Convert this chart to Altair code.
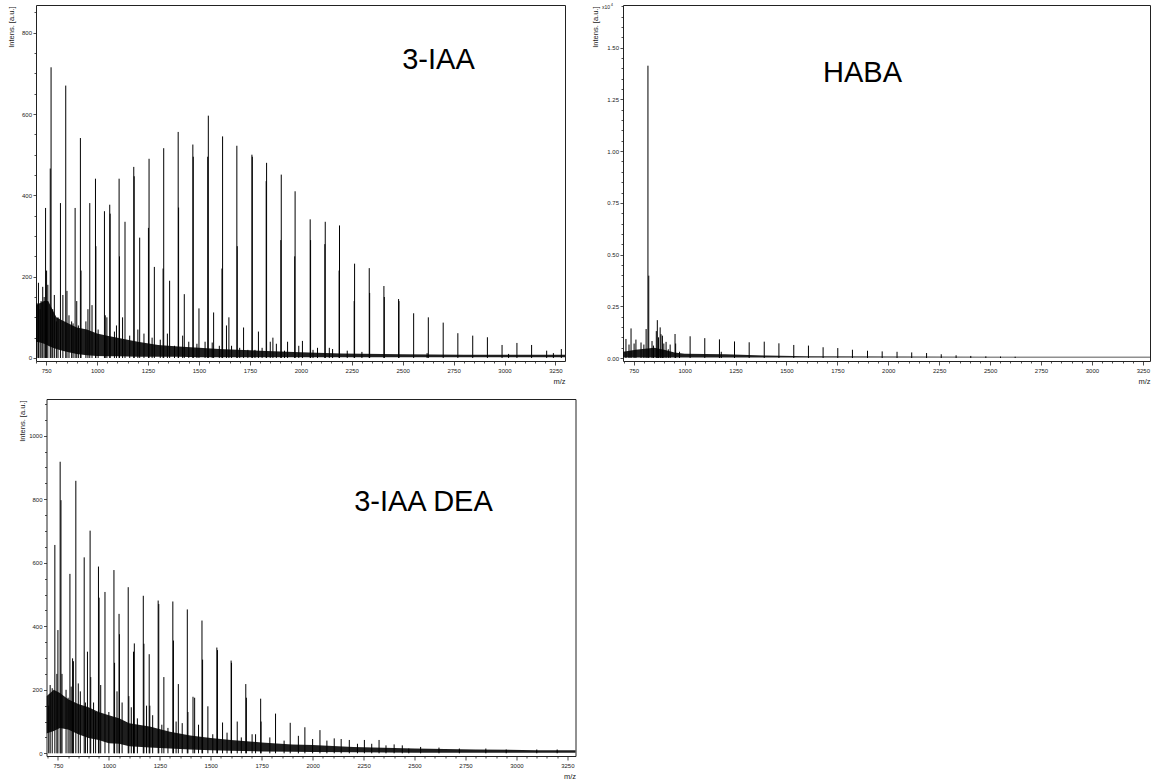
import altair as alt
import pandas as pd

FONT = "Liberation Sans"

# ---------------- 3-IAA spectrum (m/z, intensity a.u.) ----------------
iaa_mz = [747, 820, 892, 964, 1036, 1108, 1180, 1255, 1327, 1398, 1470, 1546, 1616, 1686, 1760,
          1832, 1904, 1972, 2046, 2120, 2190, 2264, 2336, 2408, 2480, 2554, 2626, 2699, 2771,
          2844, 2916, 2988, 3061, 3133, 3207, 3279,
          774, 846, 918, 992, 1062, 1137, 1209, 1281, 1356, 1428, 1500, 1572, 1647, 1719, 1792,
          1863, 1935, 2008, 2082, 2156, 2228,
          770, 921, 994, 1064, 1110, 1182, 1252, 1324, 1400, 1472, 1543, 1613, 1688, 1762, 1830,
          1902, 1970, 2048, 2118, 2188, 2262, 2338, 2410, 2482,
          705, 712, 720, 725, 733, 740, 752, 758, 782, 790, 800, 808, 832, 852, 862, 875, 882,
          900, 908, 945, 955, 975, 1005, 1040, 1048, 1085, 1095, 1125, 1160, 1200, 1230, 1270,
          1310, 1345, 1380, 1420, 1450, 1490, 1530, 1565, 1600, 1635, 1660, 1700, 1740, 1775,
          1810, 1850, 1880, 1920, 1990, 2060, 2140, 2300, 2620, 3020, 3240]
iaa_int = [369, 381, 369, 381, 361, 441, 470, 490, 516, 556, 525, 596, 545, 522, 500,
           480, 451, 410, 341, 335, 326, 232, 221, 177, 145, 110, 100, 87, 61,
           55, 51, 32, 37, 32, 18, 22,
           715, 670, 541, 441, 377, 335, 296, 224, 190, 157, 122, 112, 100, 75, 65,
           50, 40, 42, 25, 22, 18,
           466, 215, 275, 355, 250, 447, 320, 220, 370, 495, 495, 220, 275, 495, 435,
           290, 250, 290, 280, 215, 140, 160, 150, 140,
           135, 185, 120, 140, 175, 150, 215, 180, 120, 155, 90, 100, 155, 165, 105, 90, 85,
           140, 80, 90, 120, 130, 70, 105, 100, 65, 80, 100, 55, 70, 60, 50,
           45, 60, 30, 55, 40, 35, 40, 38, 30, 80, 30, 25, 20, 20,
           25, 40, 35, 18, 30, 20, 25, 15, 12, 10, 12]
iaa_noise_mz = [698, 720, 740, 760, 780, 800, 830, 860, 900, 950, 1000, 1050, 1100, 1200, 1300,
                1400, 1500, 1600, 1800, 2000, 2200, 2500, 2800, 3100, 3300]
iaa_noise_lo = [40, 38, 35, 30, 26, 22, 18, 14, 10, 7, 5, 4, 4, 3, 3,
                3, 2, 2, 2, 2, 2, 2, 2, 2, 2]
iaa_noise_hi = [130, 135, 140, 140, 120, 100, 92, 85, 75, 70, 60, 55, 50, 40, 32,
                28, 25, 22, 18, 14, 11, 9, 8, 8, 8]

# ---------------- HABA spectrum ----------------
haba_mz = [820, 824, 712, 727, 737, 752, 761, 786, 800, 811, 840, 847, 861, 866, 872, 880, 884,
           891, 898, 909, 920, 929, 953, 956, 975, 1027, 1099, 1171, 1180, 1245, 1317, 1391,
           1463, 1536, 1608, 1680, 1752, 1824, 1898, 1970, 2043, 2115, 2188, 2260, 2333, 2405,
           2479, 2551, 2623]
haba_int = [14130, 3980, 920, 650, 1430, 700, 890, 750, 650, 1400, 820, 600, 1300, 1830, 1000,
            1480, 1150, 1080, 700, 780, 420, 650, 1160, 700, 300, 1050, 960, 900, 300, 800, 760,
            790, 710, 630, 600, 520, 480, 400, 350, 320, 300, 270, 240, 180, 130, 100,
            80, 70, 60]
haba_noise_mz = [698, 760, 850, 900, 950, 1000, 1200, 1400, 1600, 2000, 2500, 3300]
haba_noise_lo = [20, 20, 20, 20, 20, 20, 20, 20, 20, 20, 20, 20]
haba_noise_hi = [300, 400, 500, 400, 260, 200, 180, 120, 90, 70, 60, 60]

# ---------------- 3-IAA DEA spectrum ----------------
dea_mz = [735, 809, 879, 949, 1025, 1095, 1169, 1242, 1314, 1385, 1457, 1530, 1600, 1672, 1745,
          1818, 1890, 1962, 2036, 2106, 2180, 2254, 2326, 2400, 2472,
          761, 838, 908, 981, 1050, 1125, 1198, 1270, 1341, 1413, 1486, 1558, 1630, 1703,
          750, 765, 822, 826, 895, 911, 952, 1028, 1052, 1098, 1121, 1172, 1201, 1245, 1317,
          1388, 1421, 1460, 1533, 1602, 1675, 1747,
          705, 712, 722, 745, 770, 790, 800, 815, 850, 860, 885, 925, 935, 960, 1000, 1040,
          1065, 1110, 1140, 1185, 1215, 1260, 1290, 1330, 1360, 1440, 1510, 1580, 1650, 1720,
          1790, 1860, 1930, 2000, 2070, 2140, 2220, 2290, 2360, 2440, 2530, 2620, 2720, 2850,
          2950, 3100, 3200]
dea_int = [656, 565, 617, 588, 577, 523, 496, 481, 478, 453, 418, 333, 292, 218, 172,
           125, 96, 82, 73, 47, 42, 42, 42, 28, 15,
           918, 858, 701, 508, 439, 346, 312, 240, 218, 178, 148, 97, 100, 60,
           388, 797, 299, 290, 320, 240, 490, 285, 375, 180, 320, 345, 150, 470, 355,
           130, 175, 295, 325, 285, 175, 100,
           150, 215, 205, 250, 250, 200, 175, 210, 220, 195, 160, 160, 130, 215, 130, 195,
           160, 145, 110, 150, 120, 90, 80, 100, 95, 90, 60, 65, 50, 60,
           50, 40, 55, 45, 40, 45, 30, 30, 25, 25, 20, 18, 15, 15,
           12, 12, 12]
dea_noise_mz = [694, 730, 760, 800, 850, 900, 950, 1000, 1050, 1100, 1200, 1300, 1400, 1500,
                1600, 1750, 1900, 2000, 2200, 2500, 2800, 3100, 3300]
dea_noise_lo = [62, 70, 80, 75, 60, 48, 42, 32, 30, 22, 18, 15, 12, 10,
                8, 6, 5, 4, 3, 2, 2, 2, 2]
dea_noise_hi = [180, 200, 190, 170, 155, 145, 130, 120, 110, 95, 84, 68, 56, 48,
                42, 34, 28, 26, 20, 15, 12, 10, 10]

X_MAJOR = list(range(750, 3251, 250))
X_MINOR = [v for v in range(700, 3300, 50) if v % 250 != 0]

AX = dict(grid=False, domain=False, labelFont=FONT, labelFontSize=6, labelColor="#222",
          tickColor="#222", tickWidth=0.8)


def panel(mz, inten, nmz, nlo, nhi, xdom, ydom, ymaj, ymin, w, h, label, lx, ly,
          title_x, ylabel_expr=None, extra=None):
    pk = pd.DataFrame({"mz": mz, "I": inten})
    nz = pd.DataFrame({"mz": nmz, "lo": nlo, "hi": nhi})
    xs = alt.Scale(domain=xdom, nice=False, zero=False)
    ys = alt.Scale(domain=ydom, nice=False, zero=False)
    yax = dict(values=ymaj, title="Intens. [a.u.]", titleX=title_x, titleY=1, titleAngle=270,
               titleAlign="right", titleBaseline="bottom", titleFont=FONT, titleFontSize=7.5,
               titleFontWeight="normal", titleColor="#222", tickSize=3, labelPadding=1.5,
               orient="left", **AX)
    if ylabel_expr:
        yax["labelExpr"] = ylabel_expr
    else:
        yax["format"] = "d"
    noise = alt.Chart(nz).mark_area(color="black", opacity=0.88, clip=True).encode(
        x=alt.X("mz:Q", scale=xs,
                axis=alt.Axis(values=X_MINOR, labels=False, title="", tickSize=2,
                              orient="bottom", **AX)),
        y=alt.Y("lo:Q", scale=ys,
                axis=alt.Axis(values=ymin, labels=False, title="", tickSize=2,
                              orient="left", **AX)),
        y2="hi:Q",
    )
    peaks = alt.Chart(pk).mark_rule(color="black", strokeWidth=1, clip=True).encode(
        x=alt.X("mz:Q", scale=xs,
                axis=alt.Axis(values=X_MAJOR, format="d", title="m/z", titleX=w, titleY=22,
                              titleAlign="right", titleBaseline="alphabetic", titleFont=FONT,
                              titleFontSize=7.5, titleFontWeight="normal", titleColor="#222",
                              tickSize=4, labelPadding=2, orient="bottom", **AX)),
        y=alt.Y("I:Q", scale=ys, axis=alt.Axis(**yax)),
        y2=alt.datum(0),
    )
    txt = alt.Chart(pd.DataFrame({"t": [label]})).mark_text(
        font=FONT, fontSize=29, color="black", align="center", baseline="alphabetic"
    ).encode(x=alt.value(lx), y=alt.value(ly), text="t:N")
    layers = [noise, peaks, txt] + (extra or [])
    return alt.layer(*layers).resolve_axis(x="independent", y="independent").properties(
        width=w, height=h)


# x10^4 multiplier marker for HABA axis
exp_a = alt.Chart(pd.DataFrame({"t": ["x10"]})).mark_text(
    font=FONT, fontSize=5, color="#222", align="left", baseline="alphabetic"
).encode(x=alt.value(-21), y=alt.value(3.5), text="t:N")
exp_b = alt.Chart(pd.DataFrame({"t": ["4"]})).mark_text(
    font=FONT, fontSize=4, color="#222", align="left", baseline="alphabetic"
).encode(x=alt.value(-12.3), y=alt.value(0.8), text="t:N")

p1 = panel(iaa_mz, iaa_int, iaa_noise_mz, iaa_noise_lo, iaa_noise_hi,
           [700, 3297], [-7.4, 868.2], [0, 200, 400, 600, 800],
           [v for v in range(0, 851, 50) if v % 200 != 0],
           529, 356, "3-IAA", 402.5, 64, -21)

p2 = panel(haba_mz, haba_int, haba_noise_mz, haba_noise_lo, haba_noise_hi,
           [697.5, 3285], [-145, 17064], list(range(0, 15001, 2500)),
           [v for v in range(0, 17001, 500) if v % 2500 != 0],
           527, 356, "HABA", 239.5, 77, -24,
           ylabel_expr="format(datum.value / 10000, '.2f')", extra=[exp_a, exp_b])

p3 = panel(dea_mz, dea_int, dea_noise_mz, dea_noise_lo, dea_noise_hi,
           [694, 3290], [-8.5, 1115.6], [0, 200, 400, 600, 800, 1000],
           [v for v in range(0, 1101, 50) if v % 200 != 0],
           529, 357, "3-IAA DEA", 377, 112, -20)

spacer = alt.Chart(pd.DataFrame({"a": [0]})).mark_point(opacity=0).encode(
    x=alt.value(0), y=alt.value(0)
).properties(width=1, height=1, view=alt.ViewBackground(strokeOpacity=0))

top = alt.hconcat(p1, p2, spacing=58, bounds="flush")
bottom = alt.hconcat(spacer, p3, spacing=9.5, bounds="flush")

chart = alt.vconcat(top, bottom, spacing=11).properties(
    padding={"left": 6, "top": 2, "right": 0, "bottom": 0},
    background="white",
).configure_view(stroke="#222", strokeWidth=1)

chart.save("out.html", embed_options={"renderer": "svg", "actions": False})
